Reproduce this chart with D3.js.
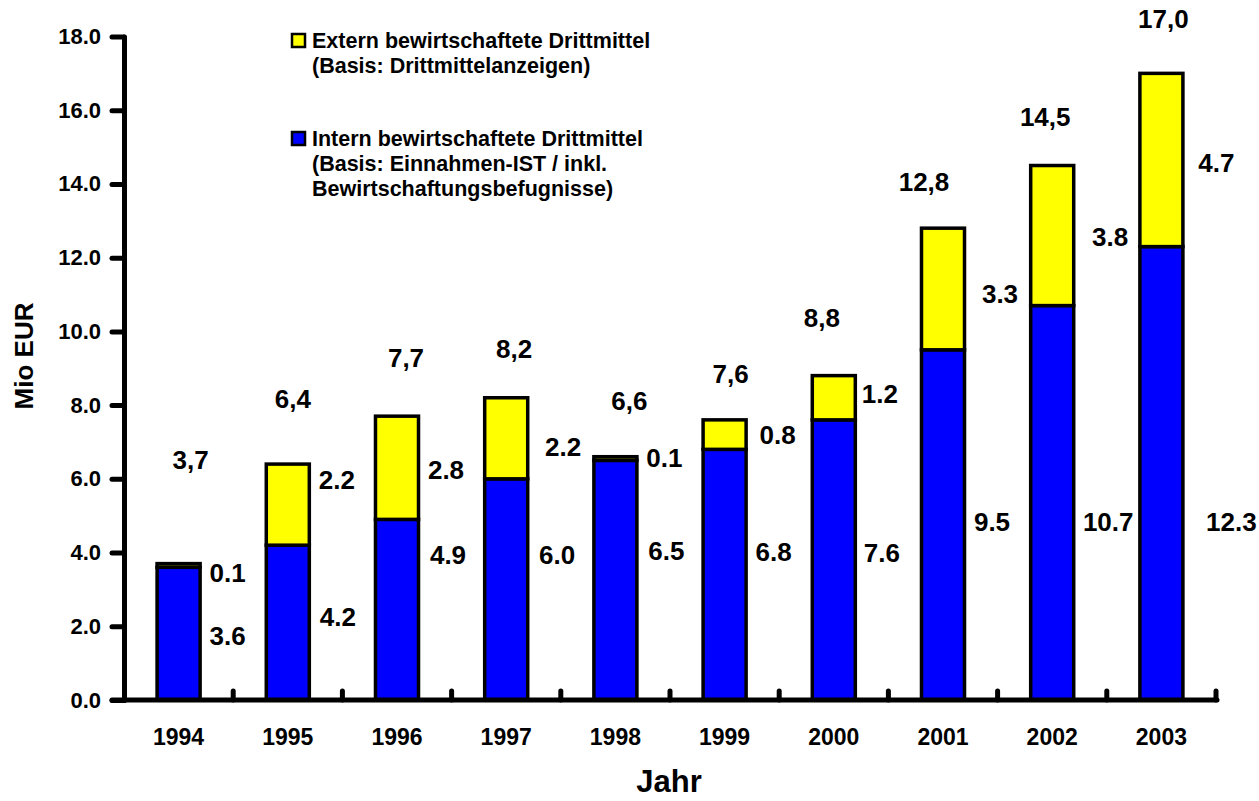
<!DOCTYPE html>
<html>
<head>
<meta charset="utf-8">
<script src="https://cdn.jsdelivr.net/npm/d3@7"></script>
<style>
  body { margin: 0; background: #fff; }
  text { font-family: "Liberation Sans", Arial, sans-serif; font-weight: bold; fill: #000; }
</style>
</head>
<body>
<svg width="1259" height="801"></svg>
<script>
var years = ["1994", "1995", "1996", "1997", "1998", "1999", "2000", "2001", "2002", "2003"];
var intern = [3.6, 4.2, 4.9, 6.0, 6.5, 6.8, 7.6, 9.5, 10.7, 12.3];
var extern = [0.1, 2.2, 2.8, 2.2, 0.1, 0.8, 1.2, 3.3, 3.8, 4.7];
var totals = [3.7, 6.4, 7.7, 8.2, 6.6, 7.6, 8.8, 12.8, 14.5, 17.0];
var yTicks = [0, 2, 4, 6, 8, 10, 12, 14, 16, 18];
var legendExtern = ["Extern bewirtschaftete Drittmittel", "(Basis: Drittmittelanzeigen)"];
var legendIntern = ["Intern bewirtschaftete Drittmittel", "(Basis: Einnahmen-IST / inkl.", "Bewirtschaftungsbefugnisse)"];

// label placement in the original is manual: [dx, dy] in px from band centre / segment top
var totalOff = [[12, -95], [5, -56], [9, -49], [8, -40], [14, -47], [6, -37], [-12, -49], [-19, -37], [-7, -40], [2, -45]];
var externOff = [[49, 18], [49, 25], [49, 63], [57, 58], [49, 10], [53, 24], [46, 27], [57, 75], [58, 80], [55, 99]];
var internOff = [[49, 78], [50, 81], [51, 45], [51, 85], [51, 100], [49, 112], [48, 142], [49, 181], [56, 225], [70, 284]];

var data = years.map((y, i) => ({ year: y, intern: intern[i], extern: extern[i], total: totals[i] }));

var svg = d3.select("svg");

var x = d3.scaleBand()
  .domain(years)
  .range([124, 1216])
  .paddingInner(0.606)
  .paddingOuter(0.303);

var y = d3.scaleLinear()
  .domain([0, 18])
  .range([700, 36.5]);

var stacked = d3.stack().keys(["intern", "extern"])(data);
var colors = { intern: "#0000ff", extern: "#ffff00" };

svg.append("g")
  .selectAll("g")
  .data(stacked)
  .enter()
  .append("g")
    .attr("fill", d => colors[d.key])
  .selectAll("rect")
  .data(d => d)
  .enter()
  .append("rect")
    .attr("x", d => x(d.data.year))
    .attr("width", x.bandwidth())
    .attr("y", d => y(d[1]))
    .attr("height", d => y(d[0]) - y(d[1]))
    .attr("stroke", "#000")
    .attr("stroke-width", 3.5);

// y axis
var yAxis = d3.axisLeft(y)
  .tickValues(yTicks)
  .tickFormat(d3.format(".1f"))
  .tickSize(12)
  .tickSizeOuter(0)
  .tickPadding(11);

var gy = svg.append("g")
  .attr("transform", "translate(124,0)")
  .call(yAxis);
gy.select(".domain").attr("stroke-width", 5).attr("stroke-linecap", "round");
gy.selectAll(".tick line").attr("stroke-width", 5).attr("stroke-linecap", "round");
gy.selectAll(".tick text").attr("font-size", 22).attr("font-family", null);

// x axis: line, boundary ticks, labels
var step = x.step();
svg.append("line")
  .attr("x1", 112).attr("x2", x.range()[1] + 1)
  .attr("y1", y(0)).attr("y2", y(0))
  .attr("stroke", "#000")
  .attr("stroke-width", 5)
  .attr("stroke-linecap", "round");

svg.append("g")
  .selectAll("line")
  .data(years)
  .enter()
  .append("line")
    .attr("x1", d => x(d) - step * x.paddingOuter() + step)
    .attr("x2", d => x(d) - step * x.paddingOuter() + step)
    .attr("y1", y(0))
    .attr("y2", y(0) - 9)
    .attr("stroke", "#000")
    .attr("stroke-width", 5)
    .attr("stroke-linecap", "round");

svg.append("g")
  .selectAll("text")
  .data(years)
  .enter()
  .append("text")
    .attr("x", d => x(d) + x.bandwidth() / 2)
    .attr("y", 745)
    .attr("text-anchor", "middle")
    .attr("font-size", 23)
    .text(d => d);

// value labels
var cx = d => x(d.year) + x.bandwidth() / 2;
var labels = svg.append("g").attr("font-size", 26);

labels.selectAll(".tot")
  .data(data)
  .enter()
  .append("text")
    .attr("x", (d, i) => cx(d) + totalOff[i][0])
    .attr("y", (d, i) => y(d.total) + totalOff[i][1])
    .attr("text-anchor", "middle")
    .text(d => d3.format(".1f")(d.total).replace(".", ","));

labels.selectAll(".ext")
  .data(data)
  .enter()
  .append("text")
    .attr("x", (d, i) => cx(d) + externOff[i][0])
    .attr("y", (d, i) => y(d.total) + externOff[i][1])
    .attr("text-anchor", "middle")
    .text(d => d3.format(".1f")(d.extern));

labels.selectAll(".int")
  .data(data)
  .enter()
  .append("text")
    .attr("x", (d, i) => cx(d) + internOff[i][0])
    .attr("y", (d, i) => y(d.intern) + internOff[i][1])
    .attr("text-anchor", "middle")
    .text(d => d3.format(".1f")(d.intern));

// legend
function legendItem(top, color, lines) {
  var g = svg.append("g");
  g.append("rect")
    .attr("x", 292).attr("y", top)
    .attr("width", 13).attr("height", 13)
    .attr("fill", color)
    .attr("stroke", "#000")
    .attr("stroke-width", 2.5);
  g.selectAll("text")
    .data(lines)
    .enter()
    .append("text")
      .attr("x", 312)
      .attr("y", (d, i) => top + 14 + i * 25)
      .attr("font-size", 21.5)
      .text(d => d);
}
legendItem(34, colors.extern, legendExtern);
legendItem(132, colors.intern, legendIntern);

// axis titles
svg.append("text")
  .attr("transform", "translate(33,356) rotate(-90)")
  .attr("text-anchor", "middle")
  .attr("font-size", 26)
  .text("Mio EUR");

svg.append("text")
  .attr("x", 669)
  .attr("y", 792)
  .attr("text-anchor", "middle")
  .attr("font-size", 31)
  .text("Jahr");
</script>
</body>
</html>
